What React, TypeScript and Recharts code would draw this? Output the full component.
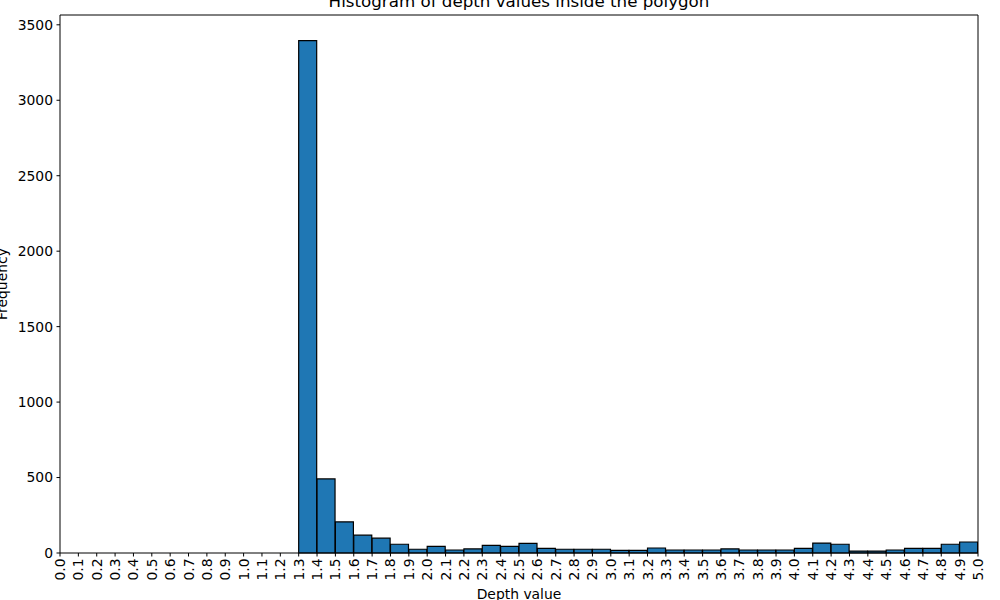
import React from "react";
import { ComposedChart, Bar, XAxis, YAxis, ReferenceLine, Label } from "recharts";

const binStarts = [1.3, 1.4, 1.5, 1.6, 1.7, 1.8, 1.9, 2.0, 2.1, 2.2, 2.3, 2.4, 2.5, 2.6, 2.7, 2.8, 2.9, 3.0, 3.1, 3.2, 3.3, 3.4, 3.5, 3.6, 3.7, 3.8, 3.9, 4.0, 4.1, 4.2, 4.3, 4.4, 4.5, 4.6, 4.7, 4.8, 4.9];
const counts = [3395, 491, 206, 118, 98, 58, 25, 44, 20, 27, 51, 44, 64, 31, 25, 25, 25, 18, 18, 33, 20, 20, 20, 27, 20, 20, 20, 31, 66, 58, 13, 13, 20, 31, 31, 58, 73];
const binWidth = 0.1;
const xTicks = [0.0, 0.1, 0.2, 0.3, 0.4, 0.5, 0.6, 0.7, 0.8, 0.9, 1.0, 1.1, 1.2, 1.3, 1.4, 1.5, 1.6, 1.7, 1.8, 1.9, 2.0, 2.1, 2.2, 2.3, 2.4, 2.5, 2.6, 2.7, 2.8, 2.9, 3.0, 3.1, 3.2, 3.3, 3.4, 3.5, 3.6, 3.7, 3.8, 3.9, 4.0, 4.1, 4.2, 4.3, 4.4, 4.5, 4.6, 4.7, 4.8, 4.9, 5.0];
const yTicks = [0, 500, 1000, 1500, 2000, 2500, 3000, 3500];
const xDomain = [0, 5];
const yMax = 3565;
const title = "Histogram of depth values inside the polygon";
const xLabel = "Depth value";
const yLabel = "Frequency";

const data = binStarts.map((s, i) => ({ center: s + binWidth / 2, count: counts[i] }));

const FONT = "'DejaVu Sans', sans-serif";

const XTick = (props: any) => {
  const { x, y, payload } = props;
  return (
    <text
      x={x}
      y={y}
      transform={`rotate(-90 ${x} ${y})`}
      textAnchor="end"
      dominantBaseline="central"
      fontFamily={FONT}
      fontSize={13.9}
      fill="#000"
    >
      {Number(payload.value).toFixed(1)}
    </text>
  );
};

export default function App() {
  return (
    <div style={{ position: "absolute", left: 0, top: 0, width: 1000, height: 600, background: "#fff" }}>
      <ComposedChart
        width={1000}
        height={600}
        data={data}
        margin={{ top: 15, right: 22, bottom: 0, left: 0 }}
        barCategoryGap={0}
        barGap={0}
      >
        <XAxis
          dataKey="center"
          type="number"
          domain={xDomain}
          ticks={xTicks}
          interval={0}
          allowDataOverflow
          height={47}
          tickSize={3.5}
          tickMargin={2}
          stroke="#000"
          tickLine={{ stroke: "#000" }}
          axisLine={{ stroke: "#000" }}
          tick={<XTick />}
        >
          <Label
            content={(p: any) => (
              <text x={519} y={599} textAnchor="middle" fontFamily={FONT} fontSize={13.9} fill="#000">
                {xLabel}
              </text>
            )}
          />
        </XAxis>
        <YAxis
          type="number"
          domain={[0, yMax]}
          ticks={yTicks}
          width={60}
          tickSize={3.5}
          tickMargin={3.5}
          stroke="#000"
          tick={{ fill: "#000", fontFamily: FONT, fontSize: 13.9 }}
          tickLine={{ stroke: "#000" }}
          axisLine={{ stroke: "#000" }}
        >
          <Label
            content={(p: any) => (
              <text
                x={7}
                y={284}
                transform="rotate(-90 7 284)"
                textAnchor="middle"
                fontFamily={FONT}
                fontSize={13.9}
                fill="#000"
              >
                {yLabel}
              </text>
            )}
          />
        </YAxis>
        <Bar dataKey="count" fill="#1f77b4" stroke="#000" strokeWidth={1.2} isAnimationActive={false} />
        <ReferenceLine y={yMax} stroke="#000" strokeWidth={1} />
        <ReferenceLine x={5} stroke="#000" strokeWidth={1} />
      </ComposedChart>
      <svg width={1000} height={600} style={{ position: "absolute", left: 0, top: 0, pointerEvents: "none" }}>
        <text x={519} y={7} textAnchor="middle" fontFamily={FONT} fontSize={16.7} fill="#000">
          {title}
        </text>
      </svg>
    </div>
  );
}
